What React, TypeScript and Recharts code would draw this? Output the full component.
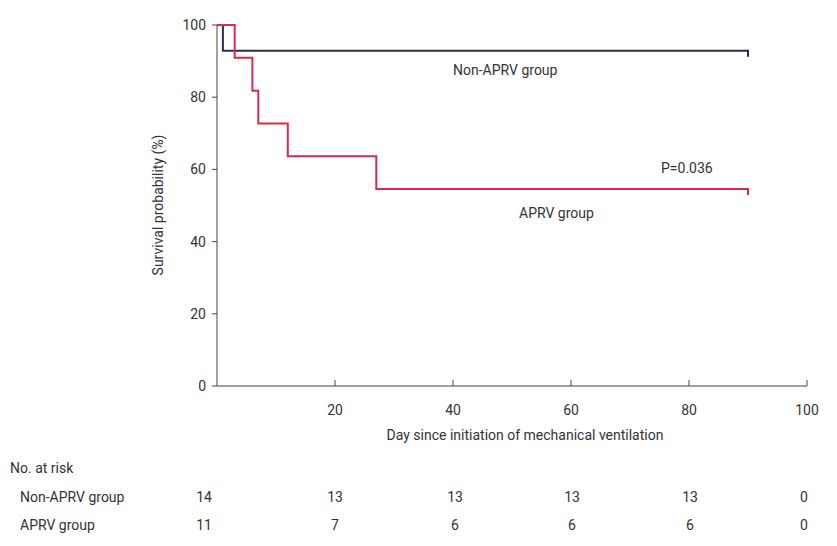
import { LineChart, Line, XAxis, YAxis } from 'recharts'

// Kaplan-Meier steps (day, survival %)
const nonAprvDays = [0, 1, 90]
const nonAprvSurv = [100, 92.86, 92.86]
const aprvDays = [0, 3, 6, 7, 12, 27, 90]
const aprvSurv = [100, 90.91, 81.82, 72.73, 63.64, 54.55, 54.55]

const xTicks = [20, 40, 60, 80, 100]
const yTicks = [0, 20, 40, 60, 80, 100]

const riskGroups = ['Non-APRV group', 'APRV group']
const riskNonAprv = [14, 13, 13, 13, 13, 0]
const riskAprv = [11, 7, 6, 6, 6, 0]

// layout
const riskCols = [204, 335, 455, 572, 690, 804]
const FONT = 'Roboto, "Noto Sans", sans-serif'
const TEXT = '#333'
const NAVY = '#2b2d4c'
const RED = '#d92a4c'

const nonAprvData = nonAprvDays.map((d, i) => ({ day: d, surv: nonAprvSurv[i] }))
const aprvData = aprvDays.map((d, i) => ({ day: d, surv: aprvSurv[i] }))

// censor mark: short vertical tick below the last point
function censorDot(color: string, lastIndex: number) {
    return (props: any) => {
        const { cx, cy, index } = props
        if (index !== lastIndex) return <g key={`d-${index}`} />
        return (
            <line
                key={`d-${index}`}
                x1={cx}
                x2={cx}
                y1={cy - 1}
                y2={cy + 6}
                stroke={color}
                strokeWidth={2}
            />
        )
    }
}

function XTick(props: any) {
    const { x, y, payload } = props
    return (
        <g>
            <line x1={x} x2={x} y1={y} y2={y - 6} stroke="#444" strokeWidth={1} />
            <text x={x} y={y + 29} textAnchor="middle" fill={TEXT} fontSize={14} fontFamily={FONT}>
                {payload.value}
            </text>
        </g>
    )
}

const label = (left: number, top: number, text: string, extra: any = {}) => (
    <div
        style={{
            position: 'absolute',
            left,
            top,
            fontSize: 14,
            fontFamily: FONT,
            color: TEXT,
            whiteSpace: 'nowrap',
            lineHeight: '16px',
            ...extra,
        }}
    >
        {text}
    </div>
)

export default function App() {
    return (
        <div style={{ position: 'absolute', left: 0, top: 0, width: 837, height: 546, background: '#fff' }}>
            <LineChart
                width={837}
                height={546}
                margin={{ top: 25, right: 30, bottom: 146, left: 0 }}
            >
                <XAxis
                    type="number"
                    dataKey="day"
                    domain={[0, 100]}
                    ticks={xTicks}
                    allowDuplicatedCategory={false}
                    height={14}
                    tickSize={0}
                    tickMargin={0}
                    tickLine={false}
                    tick={<XTick />}
                    axisLine={{ stroke: '#444', strokeWidth: 1 }}
                />
                <YAxis
                    type="number"
                    domain={[0, 100]}
                    ticks={yTicks}
                    width={217}
                    tickSize={5}
                    tickMargin={6}
                    tickLine={{ stroke: '#444' }}
                    axisLine={{ stroke: '#444', strokeWidth: 1 }}
                    tick={{ fill: TEXT, fontSize: 14, fontFamily: FONT }}
                />
                <Line
                    data={nonAprvData}
                    dataKey="surv"
                    type="stepAfter"
                    stroke={NAVY}
                    strokeWidth={2}
                    dot={censorDot(NAVY, nonAprvData.length - 1)}
                    activeDot={false}
                    isAnimationActive={false}
                />
                <Line
                    data={aprvData}
                    dataKey="surv"
                    type="stepAfter"
                    stroke={RED}
                    strokeWidth={2}
                    dot={censorDot(RED, aprvData.length - 1)}
                    activeDot={false}
                    isAnimationActive={false}
                />
            </LineChart>

            {label(453, 62, 'Non-APRV group')}
            {label(661, 160, 'P=0.036')}
            {label(519, 205, 'APRV group')}
            {label(525, 427, 'Day since initiation of mechanical ventilation', { transform: 'translateX(-50%)' })}
            {label(158, 205, 'Survival probability (%)', {
                top: 197,
                transform: 'translateX(-50%) rotate(-90deg)',
                transformOrigin: '50% 50%',
            })}

            {label(10, 460, 'No. at risk')}
            {riskGroups.map((g, r) => (
                <div key={g}>
                    {label(20, 489 + r * 28, g)}
                    {(r === 0 ? riskNonAprv : riskAprv).map((n, i) =>
                        label(riskCols[i], 489 + r * 28, String(n), { transform: 'translateX(-50%)' })
                    )}
                </div>
            ))}
        </div>
    )
}
